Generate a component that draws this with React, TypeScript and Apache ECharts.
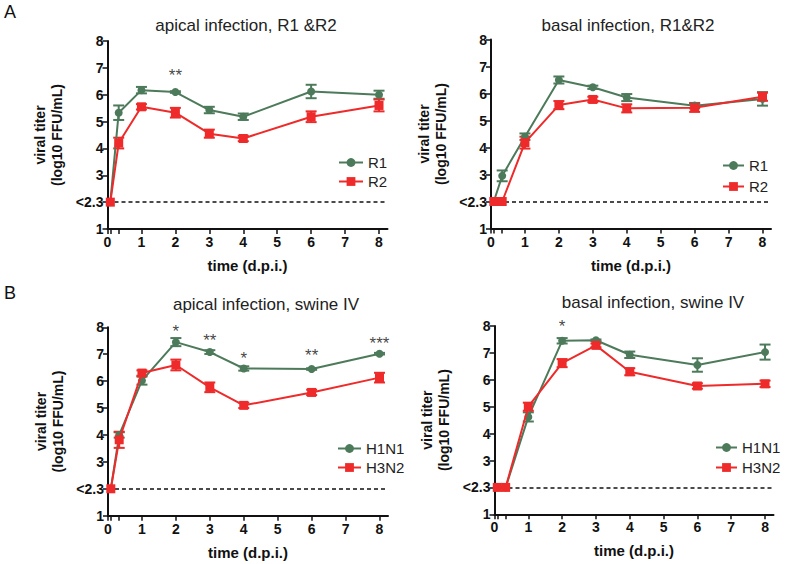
import React, { useEffect, useRef } from "react";
import * as echarts from "echarts";

// time points (days post infection)
const timePoints = [0.083, 0.33, 1, 2, 3, 4, 6, 8];
const xTickValues = [0, 0.083, 0.33, 1, 2, 3, 4, 5, 6, 7, 8];
const xLabelValues = [0, 1, 2, 3, 4, 5, 6, 7, 8];
// the "<2.3" (detection limit) row is drawn at the position of 2
const yTickValues = [1, 2, 3, 4, 5, 6, 7, 8];
const yTickLabels = ["1", "<2.3", "3", "4", "5", "6", "7", "8"];

// Panel A, apical infection R1 & R2
const apicalR1 = [2, 5.33, 6.17, 6.1, 5.43, 5.18, 6.12, 6.0];
const apicalR1Err = [0, 0.27, 0.12, 0.03, 0.12, 0.12, 0.25, 0.15];
const apicalR2 = [2, 4.2, 5.55, 5.33, 4.55, 4.37, 5.18, 5.6];
const apicalR2Err = [0, 0.2, 0.1, 0.18, 0.15, 0.1, 0.2, 0.22];
const apicalRStars: [number, number, string][] = [[2, 6.72, "**"]];

// Panel A, basal infection R1 & R2
const basalR1 = [2, 2.95, 4.4, 6.5, 6.23, 5.85, 5.55, 5.8];
const basalR1Err = [0, 0.2, 0.12, 0.13, 0.06, 0.13, 0.1, 0.25];
const basalR2 = [2, 2, 4.18, 5.57, 5.78, 5.45, 5.47, 5.88];
const basalR2Err = [0, 0, 0.22, 0.15, 0.1, 0.15, 0.15, 0.15];
const basalRStars: [number, number, string][] = [];

// Panel B, apical infection swine IV
const apicalH1N1 = [2, 4.0, 6.02, 7.45, 7.08, 6.47, 6.45, 7.02];
const apicalH1N1Err = [0, 0.1, 0.15, 0.15, 0.07, 0.08, 0.03, 0.03];
const apicalH3N2 = [2, 3.82, 6.3, 6.6, 5.77, 5.1, 5.58, 6.13];
const apicalH3N2Err = [0, 0.3, 0.1, 0.2, 0.18, 0.1, 0.1, 0.18];
const apicalSwStars: [number, number, string][] = [
  [2, 7.85, "*"],
  [3, 7.5, "**"],
  [4, 6.85, "*"],
  [6, 6.95, "**"],
  [8, 7.4, "***"],
];

// Panel B, basal infection swine IV
const basalH1N1 = [2, 2, 4.62, 7.45, 7.47, 6.93, 6.55, 7.03];
const basalH1N1Err = [0, 0, 0.17, 0.1, 0.03, 0.12, 0.25, 0.28];
const basalH3N2 = [2, 2, 5.0, 6.62, 7.28, 6.3, 5.77, 5.85];
const basalH3N2Err = [0, 0, 0.15, 0.15, 0.07, 0.13, 0.1, 0.12];
const basalSwStars: [number, number, string][] = [[2, 8.0, "*"]];

const GREEN = "#4d7a5b";
const RED = "#ee2a2a";
const FONT = "'Liberation Sans', Arial, sans-serif";

const errRender = (params: any, api: any) => {
  const x = api.value(0);
  const y = api.value(1);
  const e = api.value(2);
  if (!e) return { type: "group", children: [] };
  const top = api.coord([x, y + e]);
  const bot = api.coord([x, y - e]);
  const cap = 5.5;
  const style = { stroke: api.visual("color"), lineWidth: 2 };
  return {
    type: "group",
    children: [
      { type: "line", shape: { x1: top[0], y1: top[1], x2: bot[0], y2: bot[1] }, style },
      { type: "line", shape: { x1: top[0] - cap, y1: top[1], x2: top[0] + cap, y2: top[1] }, style },
      { type: "line", shape: { x1: bot[0] - cap, y1: bot[1], x2: bot[0] + cap, y2: bot[1] }, style },
    ],
  };
};

type Panel = {
  grid: { left: number; top: number; width: number; height: number };
  names: [string, string];
  a: number[];
  aErr: number[];
  b: number[];
  bErr: number[];
  stars: [number, number, string][];
  legend: { left: number; top: number; gap: number; w: number };
};

const panels: Panel[] = [
  {
    grid: { left: 107.5, top: 41, width: 280, height: 188 },
    names: ["R1", "R2"],
    a: apicalR1, aErr: apicalR1Err, b: apicalR2, bErr: apicalR2Err,
    stars: apicalRStars,
    legend: { left: 338, top: 155, gap: 4, w: 24 },
  },
  {
    grid: { left: 491, top: 39.5, width: 280, height: 189 },
    names: ["R1", "R2"],
    a: basalR1, aErr: basalR1Err, b: basalR2, bErr: basalR2Err,
    stars: basalRStars,
    legend: { left: 722, top: 158, gap: 6, w: 21 },
  },
  {
    grid: { left: 108, top: 327.3, width: 280, height: 188.4 },
    names: ["H1N1", "H3N2"],
    a: apicalH1N1, aErr: apicalH1N1Err, b: apicalH3N2, bErr: apicalH3N2Err,
    stars: apicalSwStars,
    legend: { left: 337, top: 441, gap: 4, w: 23 },
  },
  {
    grid: { left: 494.5, top: 326, width: 279, height: 188.3 },
    names: ["H1N1", "H3N2"],
    a: basalH1N1, aErr: basalH1N1Err, b: basalH3N2, bErr: basalH3N2Err,
    stars: basalSwStars,
    legend: { left: 715, top: 440, gap: 5, w: 21 },
  },
];

const titles = [
  { text: "apical infection, R1 &R2", x: 246, y: 25 },
  { text: "basal infection, R1&R2", x: 628, y: 25 },
  { text: "apical infection, swine IV", x: 266, y: 304 },
  { text: "basal infection, swine IV", x: 653, y: 302 },
];

function buildOption() {
  const grid: any[] = [];
  const xAxis: any[] = [];
  const yAxis: any[] = [];
  const series: any[] = [];
  const legend: any[] = [];

  panels.forEach((p, i) => {
    grid.push({ ...p.grid, containLabel: false });
    xAxis.push({
      type: "value",
      gridIndex: i,
      min: 0,
      max: 8.25,
      name: "time (d.p.i.)",
      nameLocation: "middle",
      nameGap: 29,
      nameTextStyle: { fontFamily: FONT, fontWeight: "bold", fontSize: 15, color: "#111" },
      axisLine: { show: true, onZero: false, lineStyle: { color: "#111", width: 2 } },
      axisTick: { show: true, customValues: xTickValues, length: 5, lineStyle: { color: "#111", width: 1.5 } },
      axisLabel: {
        show: true,
        customValues: xLabelValues,
        margin: 6,
        fontFamily: FONT,
        fontWeight: "bold",
        fontSize: 14,
        color: "#111",
      },
      splitLine: { show: false },
    });
    yAxis.push({
      type: "value",
      gridIndex: i,
      min: 1,
      max: 8,
      name: "viral titer\n(log10 FFU/mL)",
      nameLocation: "middle",
      nameRotate: 90,
      nameGap: 42,
      nameTextStyle: { fontFamily: FONT, fontWeight: "bold", fontSize: 14, lineHeight: 17, color: "#111" },
      axisLine: { show: true, onZero: false, lineStyle: { color: "#111", width: 2 } },
      axisTick: { show: true, customValues: yTickValues, length: 5, lineStyle: { color: "#111", width: 1.5 } },
      axisLabel: {
        show: true,
        customValues: yTickValues,
        margin: 4,
        fontFamily: FONT,
        fontWeight: "bold",
        fontSize: 14,
        color: "#111",
        formatter: (v: number) => {
          const k = yTickValues.indexOf(Math.round(v));
          return k >= 0 ? yTickLabels[k] : String(v);
        },
      },
      splitLine: { show: false },
    });

    const dataA = timePoints.map((t, k) => [t, p.a[k]]);
    const dataB = timePoints.map((t, k) => [t, p.b[k]]);
    const errA = timePoints.map((t, k) => [t, p.a[k], p.aErr[k]]);
    const errB = timePoints.map((t, k) => [t, p.b[k], p.bErr[k]]);

    series.push({
      type: "custom",
      name: p.names[0] + " err",
      xAxisIndex: i,
      yAxisIndex: i,
      renderItem: errRender,
      itemStyle: { color: GREEN },
      data: errA,
      z: 3,
      silent: true,
    });
    series.push({
      type: "custom",
      name: p.names[1] + " err",
      xAxisIndex: i,
      yAxisIndex: i,
      renderItem: errRender,
      itemStyle: { color: RED },
      data: errB,
      z: 3,
      silent: true,
    });
    series.push({
      type: "line",
      name: p.names[0],
      xAxisIndex: i,
      yAxisIndex: i,
      data: dataA,
      symbol: "circle",
      symbolSize: 8,
      color: GREEN,
      lineStyle: { color: GREEN, width: 2 },
      itemStyle: { color: GREEN },
      z: 4,
      markLine: {
        silent: true,
        symbol: ["none", "none"],
        label: { show: false },
        lineStyle: { color: "#111", width: 1.5, type: [4, 3] },
        data: [{ yAxis: 2 }],
        z: 1,
      },
    });
    series.push({
      type: "line",
      name: p.names[1],
      xAxisIndex: i,
      yAxisIndex: i,
      data: dataB,
      symbol: "rect",
      symbolSize: 9,
      color: RED,
      lineStyle: { color: RED, width: 2 },
      itemStyle: { color: RED },
      z: 5,
    });
    series.push({
      type: "scatter",
      name: "stars" + i,
      xAxisIndex: i,
      yAxisIndex: i,
      data: p.stars.map((s) => [s[0], s[1], s[2]]),
      symbolSize: 0,
      clip: false,
      silent: true,
      label: {
        show: true,
        position: "inside",
        formatter: (q: any) => q.data[2],
        fontFamily: FONT,
        fontSize: 17,
        color: "#111",
      },
    });

    legend.push({
      orient: "vertical",
      left: p.legend.left,
      top: p.legend.top,
      padding: 0,
      itemGap: p.legend.gap,
      itemWidth: p.legend.w,
      itemHeight: 11,
      data: [p.names[0], p.names[1]],
      textStyle: { fontFamily: FONT, fontSize: 15, color: "#222" },
      selectedMode: false,
    });
  });

  const graphic: any[] = titles.map((t) => ({
    type: "text",
    x: t.x,
    y: t.y,
    style: {
      text: t.text,
      font: `17px ${FONT}`,
      fill: "#222",
      textAlign: "center",
      textVerticalAlign: "middle",
    },
  }));
  graphic.push({
    type: "text",
    x: 4,
    y: 12,
    style: { text: "A", font: `18px ${FONT}`, fill: "#111", textAlign: "left", textVerticalAlign: "middle" },
  });
  graphic.push({
    type: "text",
    x: 4,
    y: 293,
    style: { text: "B", font: `18px ${FONT}`, fill: "#111", textAlign: "left", textVerticalAlign: "middle" },
  });

  return {
    animation: false,
    backgroundColor: "#ffffff",
    grid,
    xAxis,
    yAxis,
    series,
    legend,
    graphic,
  };
}

export default function App() {
  const ref = useRef<HTMLDivElement>(null);
  useEffect(() => {
    if (!ref.current) return;
    const chart = echarts.init(ref.current, undefined, { renderer: "svg" });
    chart.setOption(buildOption() as any);
    return () => chart.dispose();
  }, []);
  return (
    <div
      ref={ref}
      style={{ width: 787, height: 564, position: "absolute", left: 0, top: 0 }}
    />
  );
}
